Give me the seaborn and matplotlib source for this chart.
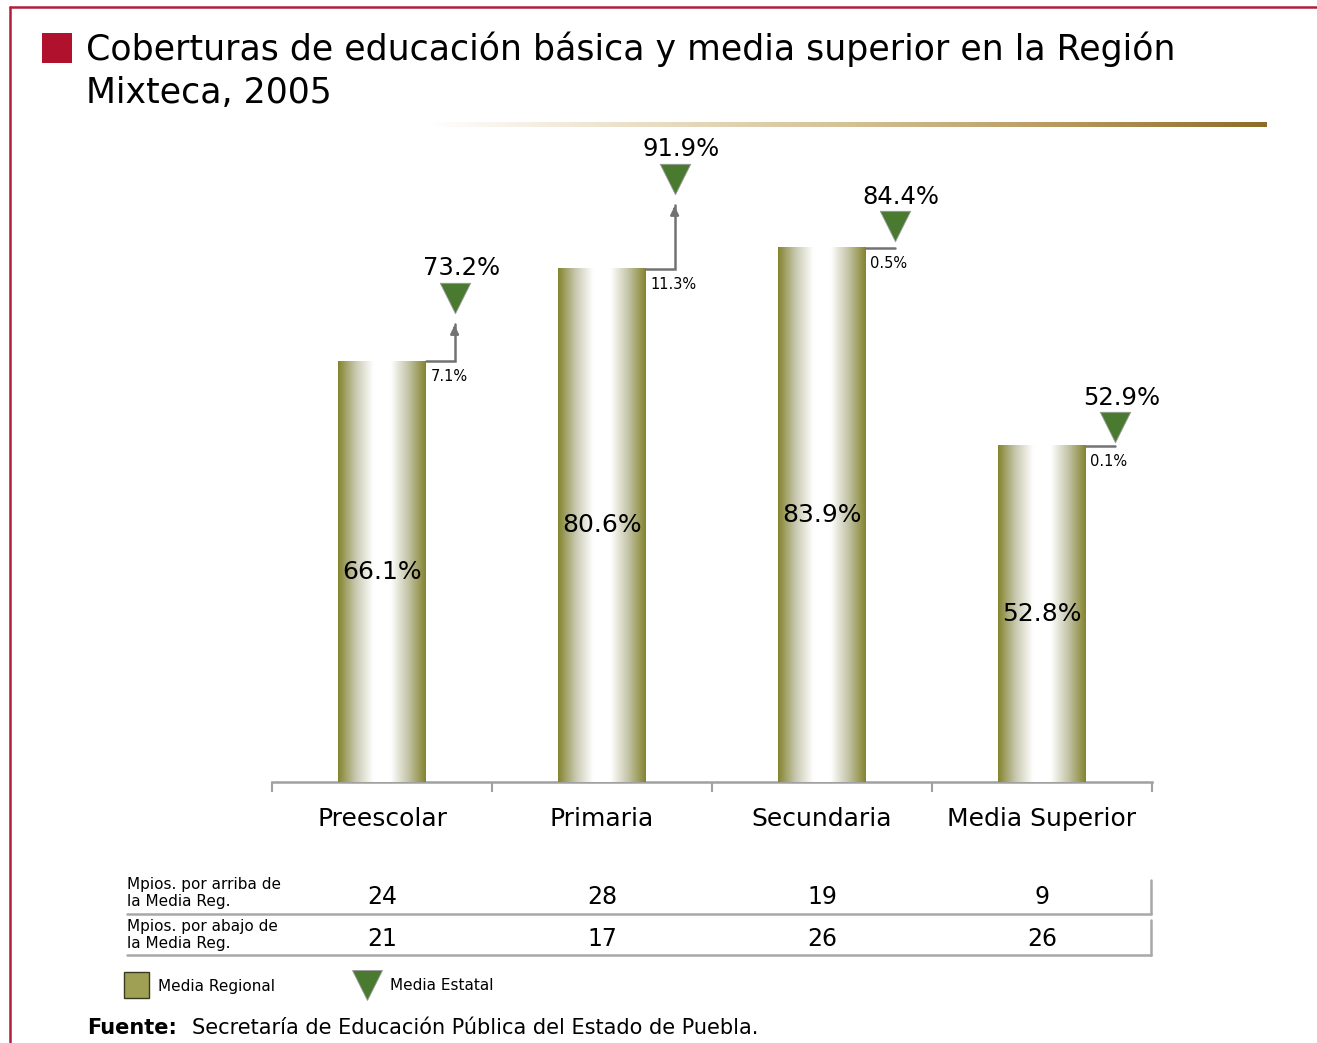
import numpy as np
import pandas as pd
import matplotlib
matplotlib.use('Agg')
import matplotlib.pyplot as plt
import seaborn as sns
from matplotlib.colors import LinearSegmentedColormap
from matplotlib.patches import Rectangle
from matplotlib.lines import Line2D
from matplotlib.transforms import blended_transform_factory

# datos
niveles = ['Preescolar', 'Primaria', 'Secundaria', 'Media Superior']
media_regional = [66.1, 80.6, 83.9, 52.8]
media_estatal = [73.2, 91.9, 84.4, 52.9]
diferencia = ['7.1%', '11.3%', '0.5%', '0.1%']
mpios_arriba = [24, 28, 19, 9]
mpios_abajo = [21, 17, 26, 26]

df = pd.DataFrame({'nivel': niveles, 'regional': media_regional, 'estatal': media_estatal})

sns.set_style('white')
plt.rcParams['font.family'] = ['DejaVu Sans']
plt.rcParams['text.color'] = 'black'
plt.rcParams['xtick.labelcolor'] = 'black'

W, H = 1317, 1043
fig = plt.figure(figsize=(W / 100, H / 100), dpi=100)

def fx(px):
    return px / W

def fy(py):
    return 1 - py / H

ax = fig.add_axes([fx(272), fy(782), fx(1152) - fx(272), fy(145.5) - fy(782)])
sns.barplot(data=df, x='nivel', y='regional', width=0.4, color='white', ax=ax, zorder=2)
ax.set_xlim(-0.5, 3.5)
ax.set_ylim(0, 100)

# degradado de las barras
olivo = '#84842e'
cmap_barra = LinearSegmentedColormap.from_list('barra', [olivo, '#c8c8b0', '#ffffff', '#ffffff', '#c4c4a8', olivo])
grad = np.linspace(0, 1, 256).reshape(1, -1)
for p in ax.patches:
    x0, y0 = p.get_x(), p.get_y()
    w, h = p.get_width(), p.get_height()
    ax.imshow(grad, cmap=cmap_barra, extent=[x0, x0 + w, y0, y0 + h],
              aspect='auto', zorder=3, interpolation='bicubic')
    p.set_edgecolor('none')

# etiquetas, flechas y triangulos
for i, (reg, est, dif) in enumerate(zip(media_regional, media_estatal, diferencia)):
    ax.text(i, reg / 2, f'{reg}%', ha='center', va='center', fontsize=18, zorder=5)
    xr = i + 0.2
    xt = i + 0.33
    if est - reg > 1:
        ax.plot([xr, xt, xt], [reg, reg, est - 1.2], color='#727272', lw=1.8, zorder=4,
                solid_joinstyle='miter')
        ax.annotate('', xy=(xt, est - 1.0), xytext=(xt, est - 2.5),
                    arrowprops=dict(arrowstyle='-|>', color='#727272', lw=1.8,
                                    mutation_scale=12), zorder=4)
    else:
        ax.plot([xr, xt], [reg, reg], color='#727272', lw=1.8, zorder=4)
    ax.scatter([xt], [est + 2.9], marker='v', s=480, color='#4a7a30',
               edgecolor='#9a9a9a', linewidths=0.6, zorder=6)
    ax.text(xt + 0.03, est + 7.5, f'{est}%', ha='center', va='center', fontsize=17.5)
    ax.text(xr + 0.02, reg - 1.2, dif, ha='left', va='top', fontsize=10.5)

sns.despine(ax=ax, left=True, top=True, right=True)
ax.spines['bottom'].set_color('#a0a0a0')
ax.spines['bottom'].set_linewidth(1.8)
ax.set_yticks([])
ax.set_xlabel('')
ax.set_ylabel('')
ax.set_xticks([0, 1, 2, 3])
ax.set_xticklabels(niveles, fontsize=18)
ax.tick_params(axis='x', which='major', length=0, pad=18)
ax.set_xticks([-0.5, 0.5, 1.5, 2.5, 3.5], minor=True)
ax.tick_params(axis='x', which='minor', bottom=True, length=7, width=1.5,
               color='#a0a0a0', direction='out')

# titulo
fig.patches.append(Rectangle((fx(42), fy(63)), fx(30), fy(33) - fy(63), transform=fig.transFigure,
                             facecolor='#b0122e', edgecolor='none'))
fig.text(fx(86), fy(49), 'Coberturas de educación básica y media superior en la Región',
         fontsize=25, va='center', ha='left')
fig.text(fx(86), fy(93), 'Mixteca, 2005', fontsize=25, va='center', ha='left')

# linea degradada bajo el titulo
ax_l = fig.add_axes([fx(430), fy(127), fx(1266) - fx(430), fy(122) - fy(127)])
cmap_linea = LinearSegmentedColormap.from_list('linea', ['#ffffff', '#eadfc6', '#d4c196', '#b89a60', '#8e6c28'])
ax_l.imshow(grad, cmap=cmap_linea, aspect='auto')
ax_l.set_axis_off()

# marco
fig.lines.append(Line2D([fx(10), 1], [fy(7), fy(7)], transform=fig.transFigure, color='#b01e3c', lw=1.8))
fig.lines.append(Line2D([fx(10), fx(10)], [fy(7), 0], transform=fig.transFigure, color='#b01e3c', lw=1.8))

# tabla
trans = blended_transform_factory(ax.transData, fig.transFigure)
fig.text(fx(127), fy(893), 'Mpios. por arriba de\nla Media Reg.', fontsize=11, va='center',
         ha='left', linespacing=1.2)
fig.text(fx(127), fy(935), 'Mpios. por abajo de\nla Media Reg.', fontsize=11, va='center',
         ha='left', linespacing=1.2)
for i, (a, b) in enumerate(zip(mpios_arriba, mpios_abajo)):
    fig.text(i, fy(897), str(a), transform=trans, fontsize=17, ha='center', va='center')
    fig.text(i, fy(939), str(b), transform=trans, fontsize=17, ha='center', va='center')
gris = '#a8a8a8'
for ya, yb in [(880, 914), (920, 955)]:
    fig.lines.append(Line2D([fx(127), fx(1151)], [fy(yb), fy(yb)], transform=fig.transFigure, color=gris, lw=1.8))
    fig.lines.append(Line2D([fx(1151), fx(1151)], [fy(ya), fy(yb)], transform=fig.transFigure, color=gris, lw=1.8))

# leyenda
fig.patches.append(Rectangle((fx(124), fy(998)), fx(25), fy(972) - fy(998), transform=fig.transFigure,
                             facecolor='#a0a055', edgecolor='#3a3a20', lw=1))
fig.text(fx(158), fy(986), 'Media Regional', fontsize=11, va='center', ha='left')
fig.lines.append(Line2D([fx(367)], [fy(985)], transform=fig.transFigure, marker='v', markersize=22,
                        color='#4a7a30', markeredgecolor='#9a9a9a', markeredgewidth=0.6, linestyle='none'))
fig.text(fx(390), fy(986), 'Media Estatal', fontsize=11, va='center', ha='left')

# fuente
fig.text(fx(87), fy(1028), 'Fuente:', fontsize=15, fontweight='bold', va='center', ha='left')
fig.text(fx(192), fy(1028), 'Secretaría de Educación Pública del Estado de Puebla.',
         fontsize=15, va='center', ha='left')

fig.savefig('out.png', dpi=100)
